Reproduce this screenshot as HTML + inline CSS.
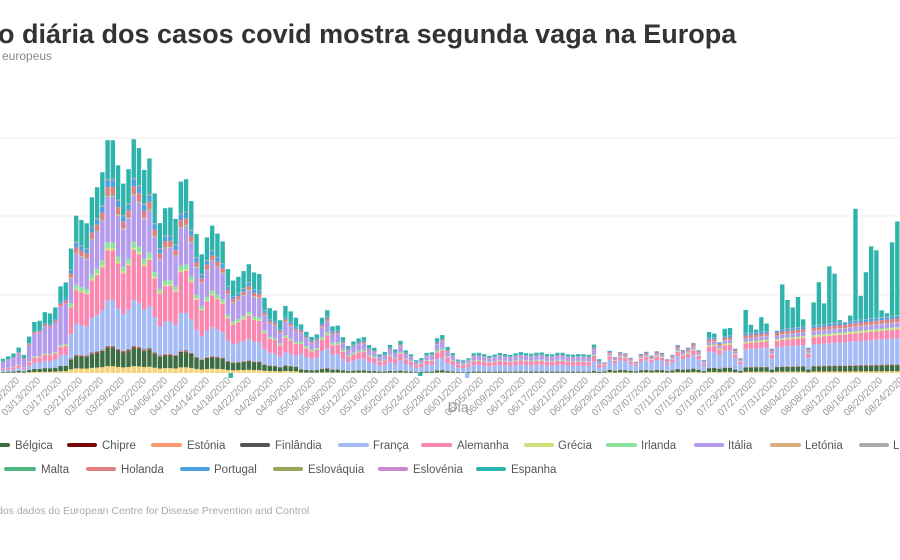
<!DOCTYPE html>
<html><head><meta charset="utf-8">
<style>
body{margin:0;background:#fff;width:900px;height:560px;overflow:hidden;font-family:"Liberation Sans",sans-serif;}
svg{display:block}
.t{font-size:10px;fill:#999}
.lg{font-size:11.5px;fill:#555}
</style></head><body>
<svg id="s" width="900" height="560" xmlns="http://www.w3.org/2000/svg">
<text x="-2" y="43" font-size="27" font-weight="bold" fill="#333">o diária dos casos covid mostra segunda vaga na Europa</text>
<text x="2" y="60" font-size="12" fill="#888">europeus</text>
<line x1="0" x2="900" y1="138" y2="138" stroke="#eee"/>
<line x1="0" x2="900" y1="216" y2="216" stroke="#eee"/>
<line x1="0" x2="900" y1="295" y2="295" stroke="#eee"/>
<g id="bars"></g>
<text x="458" y="412" font-size="14" fill="#999" text-anchor="middle">Dia</text>
<g class="t" text-anchor="end">
<text transform="translate(20,381) rotate(-45)">03/09/2020</text>
<text transform="translate(41,381) rotate(-45)">03/13/2020</text>
<text transform="translate(62,381) rotate(-45)">03/17/2020</text>
<text transform="translate(83,381) rotate(-45)">03/21/2020</text>
<text transform="translate(104,381) rotate(-45)">03/25/2020</text>
<text transform="translate(125,381) rotate(-45)">03/29/2020</text>
<text transform="translate(147,381) rotate(-45)">04/02/2020</text>
<text transform="translate(168,381) rotate(-45)">04/06/2020</text>
<text transform="translate(189,381) rotate(-45)">04/10/2020</text>
<text transform="translate(210,381) rotate(-45)">04/14/2020</text>
<text transform="translate(231,381) rotate(-45)">04/18/2020</text>
<text transform="translate(252,381) rotate(-45)">04/22/2020</text>
<text transform="translate(274,381) rotate(-45)">04/26/2020</text>
<text transform="translate(295,381) rotate(-45)">04/30/2020</text>
<text transform="translate(316,381) rotate(-45)">05/04/2020</text>
<text transform="translate(337,381) rotate(-45)">05/08/2020</text>
<text transform="translate(358,381) rotate(-45)">05/12/2020</text>
<text transform="translate(379,381) rotate(-45)">05/16/2020</text>
<text transform="translate(400,381) rotate(-45)">05/20/2020</text>
<text transform="translate(421,381) rotate(-45)">05/24/2020</text>
<text transform="translate(442,381) rotate(-45)">05/28/2020</text>
<text transform="translate(463,381) rotate(-45)">06/01/2020</text>
<text transform="translate(484,381) rotate(-45)">06/05/2020</text>
<text transform="translate(505,381) rotate(-45)">06/09/2020</text>
<text transform="translate(526,381) rotate(-45)">06/13/2020</text>
<text transform="translate(547,381) rotate(-45)">06/17/2020</text>
<text transform="translate(568,381) rotate(-45)">06/21/2020</text>
<text transform="translate(589,381) rotate(-45)">06/25/2020</text>
<text transform="translate(610,381) rotate(-45)">06/29/2020</text>
<text transform="translate(631,381) rotate(-45)">07/03/2020</text>
<text transform="translate(652,381) rotate(-45)">07/07/2020</text>
<text transform="translate(673,381) rotate(-45)">07/11/2020</text>
<text transform="translate(694,381) rotate(-45)">07/15/2020</text>
<text transform="translate(715,381) rotate(-45)">07/19/2020</text>
<text transform="translate(736,381) rotate(-45)">07/23/2020</text>
<text transform="translate(757,381) rotate(-45)">07/27/2020</text>
<text transform="translate(778,381) rotate(-45)">07/31/2020</text>
<text transform="translate(799,381) rotate(-45)">08/04/2020</text>
<text transform="translate(820,381) rotate(-45)">08/08/2020</text>
<text transform="translate(841,381) rotate(-45)">08/12/2020</text>
<text transform="translate(862,381) rotate(-45)">08/16/2020</text>
<text transform="translate(883,381) rotate(-45)">08/20/2020</text>
<text transform="translate(904,381) rotate(-45)">08/24/2020</text>
</g>
<g stroke-width="4" stroke-linecap="round">
<line x1="-20" x2="8" y1="445" y2="445" stroke="#3d6e43"/>
<line x1="69" x2="95" y1="445" y2="445" stroke="#7a0a0a"/>
<line x1="153" x2="180" y1="445" y2="445" stroke="#fb9a6c"/>
<line x1="242" x2="268" y1="445" y2="445" stroke="#555"/>
<line x1="340" x2="367" y1="445" y2="445" stroke="#a4bcf5"/>
<line x1="423" x2="450" y1="445" y2="445" stroke="#fb87b0"/>
<line x1="526" x2="552" y1="445" y2="445" stroke="#cfe07a"/>
<line x1="608" x2="635" y1="445" y2="445" stroke="#8de2a0"/>
<line x1="696" x2="722" y1="445" y2="445" stroke="#b49bed"/>
<line x1="772" x2="799" y1="445" y2="445" stroke="#d9b07c"/>
<line x1="861" x2="887" y1="445" y2="445" stroke="#aaa"/>
<line x1="6" x2="34" y1="469" y2="469" stroke="#4cb782"/>
<line x1="88" x2="114" y1="469" y2="469" stroke="#e08080"/>
<line x1="182" x2="208" y1="469" y2="469" stroke="#4aa3e0"/>
<line x1="275" x2="301" y1="469" y2="469" stroke="#98a55a"/>
<line x1="380" x2="406" y1="469" y2="469" stroke="#cc88cc"/>
<line x1="478" x2="504" y1="469" y2="469" stroke="#2fb4ad"/>
</g>
<g class="lg">
<text x="15" y="449">Bélgica</text>
<text x="102" y="449">Chipre</text>
<text x="187" y="449">Estónia</text>
<text x="275" y="449">Finlândia</text>
<text x="373" y="449">França</text>
<text x="457" y="449">Alemanha</text>
<text x="558" y="449">Grécia</text>
<text x="641" y="449">Irlanda</text>
<text x="728" y="449">Itália</text>
<text x="805" y="449">Letónia</text>
<text x="893" y="449">L</text>
<text x="41" y="473">Malta</text>
<text x="121" y="473">Holanda</text>
<text x="214" y="473">Portugal</text>
<text x="308" y="473">Eslováquia</text>
<text x="413" y="473">Eslovénia</text>
<text x="511" y="473">Espanha</text>
</g>
<text x="-3" y="514" font-size="10.5" fill="#aaa">dos dados do European Centre for Disease Prevention and Control</text>
</svg>
<script>
(function(){
var pts=[[0,360],[5,358],[11,355],[16,352],[19,347],[24,355],[29,337],[34,322],[39,322],[44,312],[49,313],[54,315],[59,286],[64,287],[69,274],[74,217],[79,222],[84,225],[89,228],[94,182],[99,197],[104,167],[109,137],[114,148],[119,175],[124,190],[129,172],[134,143],[139,153],[144,175],[150,162],[155,200],[160,227],[165,212],[170,210],[175,227],[180,187],[185,180],[190,197],[195,228],[200,258],[205,255],[210,218],[215,243],[220,230],[225,257],[230,282],[235,283],[240,277],[245,272],[250,265],[255,277],[260,276],[265,302],[270,310],[275,312],[280,322],[285,307],[290,312],[295,318],[300,323],[305,330],[310,337],[315,337],[320,330],[325,300],[330,323],[335,330],[340,322],[345,348],[350,345],[355,340],[360,338],[365,337],[370,347],[375,348],[380,355],[385,352],[390,345],[395,350],[400,340],[405,350],[410,353],[415,360],[420,360],[425,352],[430,355],[435,348],[440,325],[445,347],[450,347],[455,358],[460,360],[465,360],[470,357],[475,352],[480,353],[490,356],[500,353],[510,355],[520,352],[530,354],[540,352],[550,355],[560,352],[570,355],[580,354],[590,355],[595,342],[600,362],[605,362],[610,350],[615,357],[620,352],[625,353],[630,357],[635,363],[640,355],[645,350],[650,357],[655,352],[660,350],[665,357],[670,362],[675,347],[680,343],[685,355],[690,343],[695,343],[700,353],[705,362],[710,325],[715,335],[720,343],[725,328],[730,328],[735,348],[740,363],[745,308],[750,323],[755,333],[760,318],[765,315],[770,342],[775,360],[780,288],[785,280],[790,320],[795,297],[800,297],[805,332],[810,355],[815,283],[820,282],[825,308],[830,260],[835,275],[840,322],[845,322],[850,322],[855,199],[860,299],[865,277],[870,252],[875,228],[880,307],[885,317],[890,307],[895,153],[900,300]];
function topAt(x){for(var i=1;i<pts.length;i++){if(pts[i][0]>=x){var a=pts[i-1],b=pts[i];return a[1]+(b[1]-a[1])*(x-a[0])/(b[0]-a[0]);}}return 300;}
var cols=["#f7d37a","#3d6e43","#7a0a0a","#fb9a6c","#555","#a4bcf5","#fb87b0","#cfe07a","#8de2a0","#b49bed","#d9b07c","#aaa","#4cb782","#e08080","#4aa3e0","#98a55a","#cc88cc","#2fb4ad"];
function mix(x,h){
 var f;
 if(x<70) f=[.02,.06,0,0,0,.12,.1,.01,.01,.45,0,0,0,.03,.02,0,0,.18];
 else if(x<300) f=[.03,.08,.003,.003,.003,.2,.22,.01,.025,.2,.003,.003,.002,.035,.03,.003,.003,.17];
 else if(x<600) f=[.01,.06,.003,.003,.003,.32,.2,.01,.04,.18,.003,.003,.002,.03,.03,.003,.003,.1];
 else f=[.02,.07,.003,.003,.003,.3,.1,.02,.01,.05,.003,.003,.002,.04,.03,.003,.003,0];
 var s=0,i;for(i=0;i<17;i++)s+=f[i];
 var out=f.slice(0,17);
 if(x>=600){var base=Math.min(h,22+(x-600)*0.12);var sc=base/s;for(i=0;i<17;i++)out[i]*=sc;out.push(Math.max(0,h-base));}
 else{for(i=0;i<17;i++)out[i]*=h;out.push(h*f[17]);}
 return out;}
var g=document.getElementById("bars"),NS="http://www.w3.org/2000/svg";
function rect(x,y,w,h,c){var r=document.createElementNS(NS,"rect");r.setAttribute("x",x);r.setAttribute("y",y);r.setAttribute("width",w);r.setAttribute("height",h);r.setAttribute("fill",c);g.appendChild(r);}
for(var i=0;i<172;i++){
 var x=3+5.23*i, t=topAt(x), h=373-t, seg=mix(x,h), y=373;
 for(var k=0;k<18;k++){var sh=seg[k];if(sh<=0.05)continue;y-=sh;rect((x-2.2).toFixed(2),y.toFixed(2),4.4,sh.toFixed(2),cols[k]);}
}
rect(228.5,373,4.4,5,"#2fb4ad");
rect(465,373,4.4,5,"#a4bcf5");
rect(418,373,4.4,3,"#2fb4ad");
})();
</script>
</body></html>
